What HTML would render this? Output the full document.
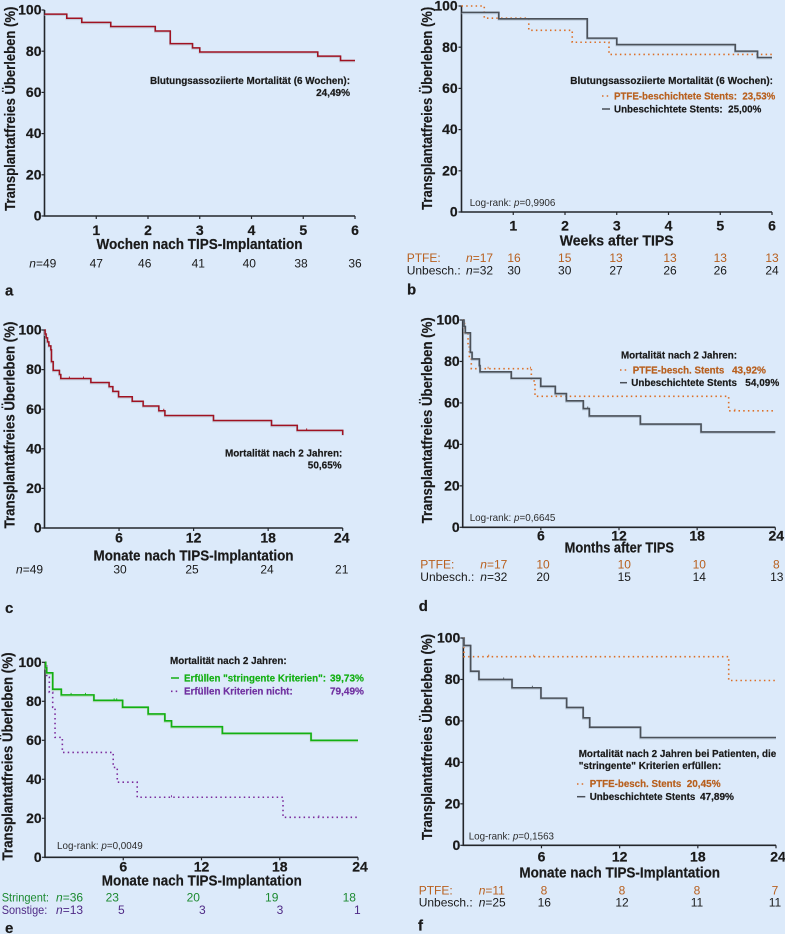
<!DOCTYPE html>
<html lang="de">
<head>
<meta charset="utf-8">
<title>Transplantatfreies Überleben nach TIPS</title>
<style>
html,body{margin:0;padding:0;background:#dceafa;}
svg{display:block;font-family:"Liberation Sans",Arial,sans-serif;filter:blur(0.35px);}
text{fill:#1a1a1a;}
.tick{font-weight:bold;font-size:14px;stroke:#1a1a1a;stroke-width:.2px;}
.ttl{font-weight:bold;font-size:14.5px;stroke:#1a1a1a;stroke-width:.2px;}
.row{font-size:12px;}
.ann{font-weight:bold;font-size:10px;stroke:#1a1a1a;stroke-width:.2px;}
.lr{font-size:10.5px;fill:#2c2c2c;}
.pl{font-weight:bold;font-size:15px;stroke:#1a1a1a;stroke-width:.2px;}
.or{fill:#b8601f;}
.gr{fill:#15b015;}
.pu{fill:#7030a0;}
.gd{fill:#1c8a30;}
.pd{fill:#4f2a86;}
.ann.or{stroke:#b8601f;}
.ann.gr{stroke:#15b015;}
.ann.pu{stroke:#7030a0;}
.it{font-style:italic;}
</style>
</head>
<body>
<svg id="fig" xmlns="http://www.w3.org/2000/svg" width="785" height="934" viewBox="0 0 785 934">
<rect x="0" y="0" width="785" height="934" fill="#dceafa"/>

<!-- Panel a -->
<g>
<text class="ttl" transform="translate(15,108.7) rotate(-90)" text-anchor="middle" textLength="204" lengthAdjust="spacingAndGlyphs">Transplantatfreies Überleben (%)</text>
<text class="ttl" x="199.5" y="249" text-anchor="middle" textLength="206" lengthAdjust="spacingAndGlyphs">Wochen nach TIPS-Implantation</text>
<text class="ann" x="150" y="84" textLength="200" lengthAdjust="spacingAndGlyphs">Blutungsassoziierte Mortalität (6 Wochen):</text>
<text class="ann" x="350" y="96" text-anchor="end">24,49%</text>
<text class="row" x="29.3" y="267.3"><tspan class="it">n</tspan>=49</text>
<text class="row" x="96.3" y="267.3" text-anchor="middle">47</text>
<text class="row" x="144.7" y="267.3" text-anchor="middle">46</text>
<text class="row" x="198.3" y="267.3" text-anchor="middle">41</text>
<text class="row" x="249.3" y="267.3" text-anchor="middle">40</text>
<text class="row" x="301" y="267.3" text-anchor="middle">38</text>
<text class="row" x="355" y="267.3" text-anchor="middle">36</text>
<text class="pl" x="5" y="295.3">a</text>
</g>

<!-- Panel b -->
<g>
<text class="ttl" transform="translate(432,108.3) rotate(-90)" text-anchor="middle" textLength="203" lengthAdjust="spacingAndGlyphs">Transplantatfreies Überleben (%)</text>
<text class="ttl" x="616.7" y="245.3" text-anchor="middle" textLength="114" lengthAdjust="spacingAndGlyphs">Weeks after TIPS</text>
<text class="lr" x="469.7" y="206" textLength="85.7" lengthAdjust="spacingAndGlyphs">Log-rank: <tspan class="it">p</tspan>=0,9906</text>
<text class="ann" x="570.3" y="84" textLength="202.7" lengthAdjust="spacingAndGlyphs">Blutungsassoziierte Mortalität (6 Wochen):</text>
<text class="ann or" x="614" y="99.3" textLength="161.3" lengthAdjust="spacingAndGlyphs" xml:space="preserve">PTFE-beschichtete Stents:  23,53%</text>
<text class="ann" x="614" y="112.7" textLength="147.3" lengthAdjust="spacingAndGlyphs" xml:space="preserve">Unbeschichtete Stents:  25,00%</text>
<line x1="602" y1="96" x2="610" y2="96" stroke="#d9702a" stroke-width="1.6" stroke-dasharray="1.5 3.2"/>
<line x1="602" y1="109" x2="610" y2="109" stroke="#4a5058" stroke-width="1.5"/>
<text class="row or" x="406.7" y="262">PTFE:</text>
<text class="row or" x="466" y="262"><tspan class="it">n</tspan>=17</text>
<text class="row or" x="514" y="262" text-anchor="middle">16</text>
<text class="row or" x="564.7" y="262" text-anchor="middle">15</text>
<text class="row or" x="616" y="262" text-anchor="middle">13</text>
<text class="row or" x="670" y="262" text-anchor="middle">13</text>
<text class="row or" x="720.3" y="262" text-anchor="middle">13</text>
<text class="row or" x="772" y="262" text-anchor="middle">13</text>
<text class="row" x="406.7" y="274.7">Unbesch.:</text>
<text class="row" x="466" y="274.7"><tspan class="it">n</tspan>=32</text>
<text class="row" x="514" y="274.7" text-anchor="middle">30</text>
<text class="row" x="564.7" y="274.7" text-anchor="middle">30</text>
<text class="row" x="616" y="274.7" text-anchor="middle">27</text>
<text class="row" x="670" y="274.7" text-anchor="middle">26</text>
<text class="row" x="720.3" y="274.7" text-anchor="middle">26</text>
<text class="row" x="772" y="274.7" text-anchor="middle">24</text>
<text class="pl" x="407" y="294.7">b</text>
</g>

<!-- Panel c -->
<g>
<text class="ttl" transform="translate(14.7,425) rotate(-90)" text-anchor="middle" textLength="206.7" lengthAdjust="spacingAndGlyphs">Transplantatfreies Überleben (%)</text>
<text class="ttl" x="193.5" y="560.7" text-anchor="middle" textLength="200" lengthAdjust="spacingAndGlyphs">Monate nach TIPS-Implantation</text>
<text class="ann" x="225" y="456.7" textLength="117.3" lengthAdjust="spacingAndGlyphs">Mortalität nach 2 Jahren:</text>
<text class="ann" x="341.7" y="468.3" text-anchor="end">50,65%</text>
<text class="row" x="16" y="573.3"><tspan class="it">n</tspan>=49</text>
<text class="row" x="120" y="573.3" text-anchor="middle">30</text>
<text class="row" x="192" y="573.3" text-anchor="middle">25</text>
<text class="row" x="267" y="573.3" text-anchor="middle">24</text>
<text class="row" x="341.7" y="573.3" text-anchor="middle">21</text>
<text class="pl" x="5" y="613">c</text>
</g>

<!-- Panel d -->
<g>
<text class="ttl" transform="translate(432,420.3) rotate(-90)" text-anchor="middle" textLength="206" lengthAdjust="spacingAndGlyphs">Transplantatfreies Überleben (%)</text>
<text class="ttl" x="619.3" y="552.3" text-anchor="middle" textLength="109.3" lengthAdjust="spacingAndGlyphs">Months after TIPS</text>
<text class="lr" x="469.7" y="521" textLength="85.7" lengthAdjust="spacingAndGlyphs">Log-rank: <tspan class="it">p</tspan>=0,6645</text>
<text class="ann" x="621" y="358.7" textLength="116" lengthAdjust="spacingAndGlyphs">Mortalität nach 2 Jahren:</text>
<text class="ann or" x="632.7" y="373.3" textLength="91.6" lengthAdjust="spacingAndGlyphs">PTFE-besch. Stents</text>
<text class="ann or" x="732" y="373.3">43,92%</text>
<text class="ann" x="631.3" y="386" textLength="105.7" lengthAdjust="spacingAndGlyphs">Unbeschichtete Stents</text>
<text class="ann" x="745.3" y="386">54,09%</text>
<line x1="620" y1="370" x2="627" y2="370" stroke="#d9702a" stroke-width="1.6" stroke-dasharray="1.5 3.2"/>
<line x1="620" y1="382.7" x2="627" y2="382.7" stroke="#4a5058" stroke-width="1.5"/>
<text class="row or" x="420.3" y="568.7">PTFE:</text>
<text class="row or" x="480.3" y="568.7"><tspan class="it">n</tspan>=17</text>
<text class="row or" x="543" y="568.7" text-anchor="middle">10</text>
<text class="row or" x="624.3" y="568.7" text-anchor="middle">10</text>
<text class="row or" x="699.3" y="568.7" text-anchor="middle">10</text>
<text class="row or" x="776.3" y="568.7" text-anchor="middle">8</text>
<text class="row" x="420.3" y="581">Unbesch.:</text>
<text class="row" x="480.3" y="581"><tspan class="it">n</tspan>=32</text>
<text class="row" x="543" y="581" text-anchor="middle">20</text>
<text class="row" x="624.3" y="581" text-anchor="middle">15</text>
<text class="row" x="699.3" y="581" text-anchor="middle">14</text>
<text class="row" x="776.8" y="581" text-anchor="middle">13</text>
<text class="pl" x="418.7" y="611">d</text>
</g>

<!-- Panel e -->
<g>
<text class="ttl" transform="translate(12.7,756.5) rotate(-90)" text-anchor="middle" textLength="208" lengthAdjust="spacingAndGlyphs">Transplantatfreies Überleben (%)</text>
<text class="ttl" x="201.8" y="885.7" text-anchor="middle" textLength="200" lengthAdjust="spacingAndGlyphs">Monate nach TIPS-Implantation</text>
<text class="lr" x="57" y="849" textLength="85.7" lengthAdjust="spacingAndGlyphs">Log-rank: <tspan class="it">p</tspan>=0,0049</text>
<text class="ann" x="170" y="664" textLength="116.7" lengthAdjust="spacingAndGlyphs">Mortalität nach 2 Jahren:</text>
<text class="ann gr" x="184" y="681.7" textLength="142" lengthAdjust="spacingAndGlyphs">Erfüllen "stringente Kriterien":</text>
<text class="ann gr" x="330" y="681.7">39,73%</text>
<text class="ann pu" x="184" y="694.7" textLength="108.7" lengthAdjust="spacingAndGlyphs">Erfüllen Kriterien nicht:</text>
<text class="ann pu" x="330" y="694.7">79,49%</text>
<line x1="171" y1="678" x2="179" y2="678" stroke="#15b015" stroke-width="1.5"/>
<line x1="171" y1="691.3" x2="179" y2="691.3" stroke="#7b2a9c" stroke-width="1.6" stroke-dasharray="1.5 3.2"/>
<text class="row gd" x="1.7" y="901.3" textLength="47.3" lengthAdjust="spacingAndGlyphs">Stringent:</text>
<text class="row gd" x="56" y="901.3"><tspan class="it">n</tspan>=36</text>
<text class="row gd" x="112.3" y="901.3" text-anchor="middle">23</text>
<text class="row gd" x="193.3" y="901.3" text-anchor="middle">20</text>
<text class="row gd" x="271.7" y="901.3" text-anchor="middle">19</text>
<text class="row gd" x="349.3" y="901.3" text-anchor="middle">18</text>
<text class="row pd" x="1.7" y="914" textLength="45.6" lengthAdjust="spacingAndGlyphs">Sonstige:</text>
<text class="row pd" x="56" y="914"><tspan class="it">n</tspan>=13</text>
<text class="row pd" x="121.3" y="914" text-anchor="middle">5</text>
<text class="row pd" x="202.3" y="914" text-anchor="middle">3</text>
<text class="row pd" x="280" y="914" text-anchor="middle">3</text>
<text class="row pd" x="357.3" y="914" text-anchor="middle">1</text>
<text class="pl" x="5" y="933">e</text>
</g>

<!-- Panel f -->
<g>
<text class="ttl" transform="translate(432,737) rotate(-90)" text-anchor="middle" textLength="206" lengthAdjust="spacingAndGlyphs">Transplantatfreies Überleben (%)</text>
<text class="ttl" x="619.7" y="877.7" text-anchor="middle" textLength="200.7" lengthAdjust="spacingAndGlyphs">Monate nach TIPS-Implantation</text>
<text class="lr" x="468.7" y="839.7" textLength="85.3" lengthAdjust="spacingAndGlyphs">Log-rank: <tspan class="it">p</tspan>=0,1563</text>
<text class="ann" x="578.7" y="757" textLength="197.6" lengthAdjust="spacingAndGlyphs">Mortalität nach 2 Jahren bei Patienten, die</text>
<text class="ann" x="578.7" y="769" textLength="142.6" lengthAdjust="spacingAndGlyphs">"stringente" Kriterien erfüllen:</text>
<text class="ann or" x="589.7" y="787" textLength="91.6" lengthAdjust="spacingAndGlyphs">PTFE-besch. Stents</text>
<text class="ann or" x="686.7" y="787">20,45%</text>
<text class="ann" x="589.7" y="800" textLength="105.6" lengthAdjust="spacingAndGlyphs">Unbeschichtete Stents</text>
<text class="ann" x="700" y="800">47,89%</text>
<line x1="577" y1="784" x2="585.3" y2="784" stroke="#d9702a" stroke-width="1.6" stroke-dasharray="1.5 3.2"/>
<line x1="577" y1="796.7" x2="585.3" y2="796.7" stroke="#4a5058" stroke-width="1.5"/>
<text class="row or" x="418.7" y="894.3">PTFE:</text>
<text class="row or" x="478.7" y="894.3"><tspan class="it">n</tspan>=11</text>
<text class="row or" x="544" y="894.3" text-anchor="middle">8</text>
<text class="row or" x="622" y="894.3" text-anchor="middle">8</text>
<text class="row or" x="697" y="894.3" text-anchor="middle">8</text>
<text class="row or" x="775" y="894.3" text-anchor="middle">7</text>
<text class="row" x="418.7" y="906.7">Unbesch.:</text>
<text class="row" x="478.7" y="906.7"><tspan class="it">n</tspan>=25</text>
<text class="row" x="544.3" y="906.7" text-anchor="middle">16</text>
<text class="row" x="622" y="906.7" text-anchor="middle">12</text>
<text class="row" x="697" y="906.7" text-anchor="middle">11</text>
<text class="row" x="775" y="906.7" text-anchor="middle">11</text>
<text class="pl" x="418" y="930.7">f</text>
</g>
</svg>

<script>
// ---- Tick labels ----
const yTickValues = [0, 20, 40, 60, 80, 100];
const weekTickValues = [1, 2, 3, 4, 5, 6];
const monthTickValues = [6, 12, 18, 24];

// ---- Panel a: all patients, 6 weeks ----
const aTimes = [0, 0.43, 0.72, 1.28, 2.14, 2.43, 2.86, 3.0, 5.28, 5.72, 6];
const aSurvival = [98, 96, 94, 92, 89.8, 83.7, 81.6, 79.6, 77.6, 75.5, 75.5];
const aCensored = [];

// ---- Panel b: stent type, 6 weeks ----
const bPtfeTimes = [0, 0.44, 1.3, 2.14, 2.85, 6];
const bPtfeSurvival = [100, 94.1, 88.2, 82.4, 76.5, 76.5];
const bPtfeCensored = [];
const bBareTimes = [0, 0.72, 2.43, 3.0, 5.29, 5.72, 6];
const bBareSurvival = [96.9, 93.8, 84.4, 81.3, 78.1, 75, 75];
const bBareCensored = [];

// ---- Panel c: all patients, 24 months ----
const cTimes = [0, 0.05, 0.13, 0.24, 0.35, 0.51, 0.56, 0.7, 1.2, 1.31, 3.73, 5.2, 5.5, 5.96, 7.06, 7.94, 9.2, 9.69, 13.6, 18.27, 20.34, 24];
const cSurvival = [100, 98, 96, 94, 92, 90, 84, 79.6, 77.5, 75.5, 73.5, 71.4, 69, 66.3, 64, 61.6, 59.2, 56.8, 54.3, 51.8, 49.3, 47];
const cCensored = [2.0, 3.14, 9.6, 21.1];

// ---- Panel d: stent type, 24 months ----
const dPtfeTimes = [0, 0.15, 0.41, 0.51, 0.66, 5.27, 5.55, 20.42, 24];
const dPtfeSurvival = [100, 94, 88, 82.4, 76.5, 70.6, 63.2, 56.2, 56.2];
const dPtfeCensored = [1.95, 5.2, 20.9];
const dBareTimes = [0, 0.1, 0.2, 0.59, 0.72, 1.28, 1.33, 3.73, 5.99, 7.11, 7.96, 9.26, 9.72, 13.64, 18.3, 24];
const dBareSurvival = [100, 96.9, 93.8, 84.4, 81.2, 78, 75, 71.9, 68, 64.5, 61, 57.3, 53.7, 49.8, 46, 46];
const dBareCensored = [9.6];

// ---- Panel e: stringent criteria, 24 months ----
const eStringTimes = [0, 0.05, 0.13, 0.59, 1.25, 3.75, 5.95, 7.91, 9.19, 9.7, 13.6, 20.4, 24];
const eStringSurvival = [100, 97.2, 94.6, 86.2, 83.3, 80.5, 77, 73.5, 70, 67, 63.6, 60, 60];
const eStringCensored = [2.0, 3.1, 5.3, 5.5];
const eOtherTimes = [0, 0.13, 0.33, 0.59, 0.77, 1.33, 5.23, 5.54, 7.07, 18.25, 24];
const eOtherSurvival = [100, 92.3, 84.6, 76.9, 61.5, 53.8, 46.1, 38.5, 30.8, 20.5, 20.5];
const eOtherCensored = [9.7, 21];

// ---- Panel f: stringent subgroup by stent type, 24 months ----
const fPtfeTimes = [0, 0.05, 20.37, 24];
const fPtfeSurvival = [100, 91, 79.5, 79.5];
const fPtfeCensored = [1.95, 5.4];
const fBareTimes = [0, 0.05, 0.56, 1.2, 3.74, 5.96, 7.93, 9.2, 9.7, 13.6, 24];
const fBareSurvival = [100, 96.4, 84, 80, 76, 71, 66.5, 61.5, 57, 52, 52];
const fBareCensored = [3.1, 5.3];

const SVGNS = 'http://www.w3.org/2000/svg';
const fig = document.getElementById('fig');

function make(tag, parent, attrs) {
  const el = document.createElementNS(SVGNS, tag);
  for (const k in attrs) el.setAttribute(k, attrs[k]);
  parent.appendChild(el);
  return el;
}

function drawAxes(p) {
  const g = make('g', fig, {});
  
  
  const col = '#23262b';
  const xAxis = make('line', g, {x1: p.x0 - 0.8, x2: p.x1, y1: p.y0, y2: p.y0, stroke: col, 'stroke-width': 1.6});
  
  
  const yAxis = make('line', g, {x1: p.x0, x2: p.x0, y1: p.y100, y2: p.y0, stroke: col, 'stroke-width': 1.6});
  
  
  yTickValues.forEach(function (v) {
    const y = p.sy(v);
    const t = make('line', g, {x1: p.x0 - 3, x2: p.x0, y1: y, y2: y, stroke: col, 'stroke-width': 1.2});
    
    
    const l = make('text', g, {x: p.yLabelX, y: y + 4.6, 'text-anchor': 'end', 'class': 'tick'});
    
    
    l.textContent = v;
  });
  p.xTicks.forEach(function (v, i) {
    const x = p.sx(v);
    const t = make('line', g, {x1: x, x2: x, y1: p.y0, y2: p.y0 + 3, stroke: col, 'stroke-width': 1.2});
    
    
    const dx = i === p.xTicks.length - 1 ? p.lastDx : 0;
    const l = make('text', g, {x: x + dx, y: p.xLabelY, 'text-anchor': 'middle', 'class': 'tick'});
    
    
    l.textContent = v;
  });
}

function survivalAt(times, surv, t) {
  let s = surv[0];
  for (let i = 0; i < times.length; i++) if (times[i] <= t) s = surv[i];
  return s;
}

function drawSeries(p, times, surv, censored, style, name) {
  const g = make('g', fig, {});
  
  
  let d = 'M' + p.sx(times[0]) + ' ' + p.sy(surv[0]);
  for (let i = 1; i < times.length; i++) {
    d += 'H' + p.sx(times[i]) + 'V' + p.sy(surv[i]);
  }
  if (style.halo) {
    const h = make('path', g, {d: d, fill: 'none', stroke: style.halo, 'stroke-width': 2.4, opacity: 0.75, transform: 'translate(0,0.7)'});
    
    
  }
  const attrs = {d: d, fill: 'none', stroke: style.color, 'stroke-width': style.width};
  if (style.dash) attrs['stroke-dasharray'] = style.dash;
  const line = make('path', g, attrs);
  
  
  censored.forEach(function (t) {
    const y = p.sy(survivalAt(times, surv, t));
    const m = make('line', g, {x1: p.sx(t), x2: p.sx(t), y1: y - 2, y2: y, stroke: style.color, 'stroke-width': 0.9});
    
    
  });
}

function panel(id, x0, x1, y100, y0, tMax, xTicks, yLabelX, xLabelY, lastDx) {
  return {
    id: id, x0: x0, x1: x1, y100: y100, y0: y0, xTicks: xTicks,
    yLabelX: yLabelX, xLabelY: xLabelY, lastDx: lastDx,
    sx: function (t) { return x0 + (x1 - x0) * t / tMax; },
    sy: function (v) { return y0 - (y0 - y100) * v / 100; }
  };
}

const redStyle = {color: '#a01221', width: 1.5, halo: '#b9c3d2'};
const grayStyle = {color: '#4b5159', width: 1.6, halo: '#aebccc'};
const orangeStyle = {color: '#dc6f26', width: 1.6, dash: '1.5 3.2'};
const greenStyle = {color: '#12b012', width: 1.6, halo: '#a8d4a8'};
const purpleStyle = {color: '#7b2a9c', width: 1.6, dash: '1.5 3.2'};

const pa = panel('a', 44.5, 355, 10, 216, 6, weekTickValues, 41.5, 235, 0);
const pb = panel('b', 461.5, 772, 6, 212, 6, weekTickValues, 457.7, 230.7, 0);
const pc = panel('c', 44.5, 342.7, 330, 528, 24, monthTickValues, 41.7, 542.3, -1);
const pd = panel('d', 462.7, 775.3, 320, 527.3, 24, monthTickValues, 459.7, 540.7, 1);
const pe = panel('e', 45, 358, 662.3, 857.3, 24, monthTickValues, 41.7, 871.3, 2);
const pf = panel('f', 463.3, 776, 638, 845.3, 24, monthTickValues, 460.3, 861.7, 2);

[pa, pb, pc, pd, pe, pf].forEach(drawAxes);

drawSeries(pa, aTimes, aSurvival, aCensored, redStyle, 'survival-curve-a');
drawSeries(pb, bPtfeTimes, bPtfeSurvival, bPtfeCensored, orangeStyle, 'survival-curve-ptfe-b');
drawSeries(pb, bBareTimes, bBareSurvival, bBareCensored, grayStyle, 'survival-curve-unbeschichtet-b');
drawSeries(pc, cTimes, cSurvival, cCensored, redStyle, 'survival-curve-c');
drawSeries(pd, dPtfeTimes, dPtfeSurvival, dPtfeCensored, orangeStyle, 'survival-curve-ptfe-d');
drawSeries(pd, dBareTimes, dBareSurvival, dBareCensored, grayStyle, 'survival-curve-unbeschichtet-d');
drawSeries(pe, eOtherTimes, eOtherSurvival, eOtherCensored, purpleStyle, 'survival-curve-sonstige-e');
drawSeries(pe, eStringTimes, eStringSurvival, eStringCensored, greenStyle, 'survival-curve-stringent-e');
drawSeries(pf, fPtfeTimes, fPtfeSurvival, fPtfeCensored, orangeStyle, 'survival-curve-ptfe-f');
drawSeries(pf, fBareTimes, fBareSurvival, fBareCensored, grayStyle, 'survival-curve-unbeschichtet-f');
</script>
</body>
</html>
